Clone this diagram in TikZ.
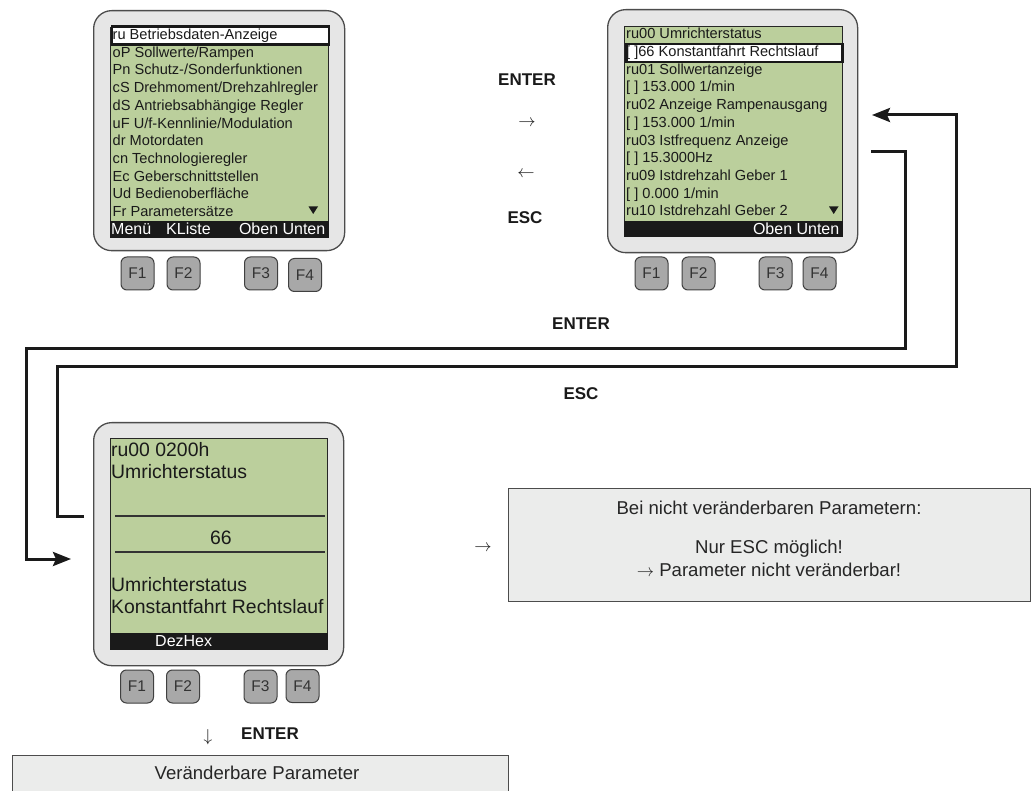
\documentclass[tikz,border=0pt]{standalone}
\usepackage{fontspec}
\setmainfont{Liberation Sans}
\usetikzlibrary{arrows.meta}
\definecolor{lcd}{HTML}{BBCF9C}
\definecolor{framefill}{HTML}{E6E6E6}
\definecolor{btnfill}{HTML}{A8A8A8}
\definecolor{boxfill}{HTML}{EBECEB}
\definecolor{ink}{HTML}{1A1A1A}
\tikzset{
 devframe/.style={draw=black!70, line width=1.3pt, fill=framefill, rounded corners=18pt},
 lcdscreen/.style={draw=black!85, line width=1pt, fill=lcd},
 fbar/.style={fill=ink, draw=ink, line width=0.5pt},
 hl/.style={draw=black!90, line width=2.5pt, fill=white},
 fbtn/.style={draw=black!75, line width=1pt, fill=btnfill, rounded corners=6pt, minimum width=33pt, minimum height=33pt, inner sep=0pt, font=\fontsize{15.5}{17}\selectfont, text=black!80},
 row/.style={anchor=west, inner sep=0pt, text height=10.5pt, text depth=0pt, font=\fontsize{14.6}{17}\selectfont, text=ink},
 bigrow/.style={anchor=west, inner sep=0pt, text height=13.9pt, text depth=0pt, font=\fontsize{19.4}{22}\selectfont, text=ink},
 foot/.style={inner sep=0pt, text height=11.5pt, text depth=0pt, text=white, font=\fontsize{16}{18}\selectfont},
 keylabel/.style={inner sep=0pt, text height=12.2pt, text depth=0pt, font=\bfseries\fontsize{17}{19}\selectfont, text=ink},
 symlabel/.style={inner sep=0pt, font=\fontsize{18}{20}\selectfont, text=ink},
 boxtext/.style={inner sep=0pt, text height=13.3pt, text depth=0pt, font=\fontsize{18.6}{22}\selectfont, text=black!85},
 conn/.style={draw=ink, line width=3pt, line join=miter},
 arr/.style={-{Stealth[length=18pt,width=14pt,inset=3pt]}},
 infobox/.style={draw=black!70, line width=1pt, fill=boxfill},
 tri/.style={fill=ink},
}
\begin{document}
\begin{tikzpicture}[x=1pt,y=-1pt]
\useasboundingbox[fill=white] (0,0) rectangle (1034,791);

% ---------- device 1 ----------
\node[devframe, anchor=north west, minimum width=251pt, minimum height=240pt] (dev1) at (93,10) {};
\node[lcdscreen, anchor=north west, minimum width=218pt, minimum height=210pt] (scr1) at (110,27) {};
\node[fbar, anchor=north west, minimum width=218pt, minimum height=16pt, inner sep=0pt] (bar1) at (110,221) {};
\node[hl, anchor=north west, minimum width=217pt, minimum height=18pt, inner sep=0pt] (hl1) at (110.5,25.5) {};
\foreach \t [count=\i] in {ru Betriebsdaten-Anzeige, oP Sollwerte/Rampen, Pn Schutz-/Sonderfunktionen, cS Drehmoment/Drehzahlregler, dS Antriebsabhängige Regler, uF U/f-Kennlinie/Modulation, dr Motordaten, cn Technologieregler, Ec Geberschnittstellen, Ud Bedienoberfläche, Fr Parametersätze}
  \node[row] (a\i) at (112.5,{34.3+17.7*(\i-1)}) {\t};
\fill[tri] (308.5,206.5) -- (318,206.5) -- (313.2,214) -- cycle;
\node[foot, anchor=west] (m1) at (111,229) {Menü};
\node[foot, anchor=west] (k1) at (166,229) {KListe};
\node[foot, anchor=east] (o1) at (325.5,229) {Oben Unten};
\node[fbtn] (b11) at (137.5,273.5) {F1};
\node[fbtn] (b12) at (183.5,273.5) {F2};
\node[fbtn] (b13) at (261,273.5) {F3};
\node[fbtn] (b14) at (305,275) {F4};

% ---------- device 2 ----------
\node[devframe, anchor=north west, minimum width=250pt, minimum height=243pt] (dev2) at (607,9) {};
\node[lcdscreen, anchor=north west, minimum width=218pt, minimum height=210pt] (scr2) at (624,26) {};
\node[fbar, anchor=north west, minimum width=218pt, minimum height=15pt, inner sep=0pt] (bar2) at (624,221) {};
\node[hl, anchor=north west, minimum width=216pt, minimum height=18pt, inner sep=0pt] (hl2) at (625,43) {};
\foreach \t [count=\i] in {ru00 Umrichterstatus, {[ ]66 Konstantfahrt Rechtslauf}, ru01 Sollwertanzeige, {[ ] 153.000 1/min}, ru02 Anzeige Rampenausgang, {[ ] 153.000 1/min}, ru03 Istfrequenz Anzeige, {[ ] 15.3000Hz}, ru09 Istdrehzahl Geber 1, {[ ] 0.000 1/min}, ru10 Istdrehzahl Geber 2}
  \node[row] (c\i) at (626,{33.5+17.72*(\i-1)}) {\t};
\fill[tri] (829,206.5) -- (838.5,206.5) -- (833.7,214) -- cycle;
\node[foot, anchor=east] (o2) at (839.5,229) {Oben Unten};
\node[fbtn] (b21) at (651.5,273.5) {F1};
\node[fbtn] (b22) at (698.5,273.5) {F2};
\node[fbtn] (b23) at (775.5,273.5) {F3};
\node[fbtn] (b24) at (819.5,273.5) {F4};

% ---------- device 3 ----------
\node[devframe, anchor=north west, minimum width=250pt, minimum height=243pt] (dev3) at (93,422) {};
\node[lcdscreen, anchor=north west, minimum width=217pt, minimum height=211pt] (scr3) at (110,438) {};
\node[fbar, anchor=north west, minimum width=217pt, minimum height=16pt, inner sep=0pt] (bar3) at (110,633) {};
\node[bigrow] (d1) at (111,450) {ru00 0200h};
\node[bigrow] (d2) at (111,472) {Umrichterstatus};
\coordinate (l1a) at (115,516); \coordinate (l1b) at (325,516);
\coordinate (l2a) at (115,552); \coordinate (l2b) at (325,552);
\draw[black!80, line width=1.2pt] (l1a) -- (l1b);
\draw[black!80, line width=1.2pt] (l2a) -- (l2b);
\node[bigrow, anchor=center] (d3) at (221,538) {66};
\node[bigrow] (d4) at (111,585) {Umrichterstatus};
\node[bigrow] (d5) at (111,607) {Konstantfahrt Rechtslauf};
\node[foot, anchor=west] (dz) at (155,641) {DezHex};
\node[fbtn] (b31) at (137,686.5) {F1};
\node[fbtn] (b32) at (183,686.5) {F2};
\node[fbtn] (b33) at (260.5,686.5) {F3};
\node[fbtn] (b34) at (302.5,686) {F4};

% ---------- labels between top devices ----------
\node[keylabel] (ent1) at (527,79) {ENTER};
\node[symlabel] (ra1) at (527,123) {$\rightarrow$};
\node[symlabel] (la1) at (526,174) {$\leftarrow$};
\node[keylabel] (esc1) at (525,217) {ESC};
\node[keylabel] (ent2) at (581,323) {ENTER};
\node[keylabel] (esc2) at (581,393) {ESC};

% ---------- connectors ----------
\coordinate (eS) at (871,152);
\coordinate (eT) at (71,559);
\draw[conn, arr] (eS) -- (905,152) -- (905,349) -- (26,349) -- (26,559) -- (eT);
\coordinate (sS) at (84,516);
\coordinate (sT) at (872,115);
\draw[conn, arr] (sS) -- (57,516) -- (57,367) -- (956,367) -- (956,115) -- (sT);

% ---------- info boxes ----------
\node[symlabel] (ra2) at (483,548) {$\rightarrow$};
\node[infobox, anchor=north west, minimum width=522pt, minimum height=113pt] (info) at (508,488) {};
\node[boxtext] (i1) at (769,508) {Bei nicht veränderbaren Parametern:};
\node[boxtext] (i2) at (769,547) {Nur ESC möglich!};
\node[boxtext] (i3) at (769,570) {$\rightarrow$ Parameter nicht veränderbar!};

\node[symlabel] (da) at (208,737) {$\downarrow$};
\node[keylabel] (ent3) at (270,733) {ENTER};
\node[infobox, anchor=north west, minimum width=496pt, minimum height=45pt] (vb) at (12,755) {};
\node[boxtext] (v1) at (257,773) {Veränderbare Parameter};
\end{tikzpicture}
\end{document}
